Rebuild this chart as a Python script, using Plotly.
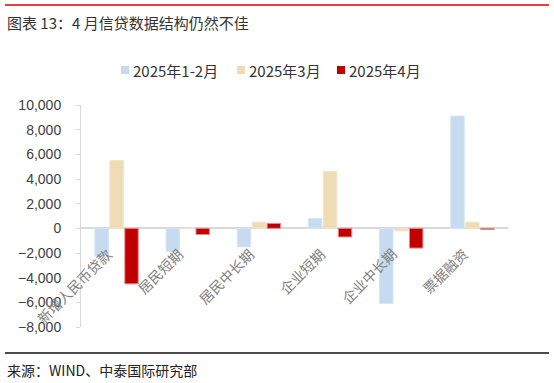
import plotly.graph_objects as go

categories = ["新增人民币贷款", "居民短期", "居民中长期", "企业短期", "企业中长期", "票据融资"]
series_names = ["2025年1-2月", "2025年3月", "2025年4月"]
v_jan_feb = [-2300, -1900, -1500, 800, -6100, 9100]
v_mar = [5500, 0, 500, 4600, -200, 500]
v_apr = [-4500, -500, 400, -700, -1600, -100]
y_ticks = [10000, 8000, 6000, 4000, 2000, 0, -2000, -4000, -6000, -8000]
title_text = "图表 13：4 月信贷数据结构仍然不佳"
source_text = "来源：WIND、中泰国际研究部"

colors = ["#C6DBEF", "#F0DCB4", "#C00000"]
line_colors = ["#D6E5F4", "#F3E4C6", "#E58A8A"]
values = [v_jan_feb, v_mar, v_apr]

CJK = "Noto Sans CJK SC"

W, H = 554, 383
ml, mr, mt, mb = 81, 46, 105, 56
pw, ph = W - ml - mr, H - mt - mb


def px_to_paper(xp, yp):
    return (xp - ml) / pw, 1 - (yp - mt) / ph


fig = go.Figure()
for name, vals, c, lc in zip(series_names, values, colors, line_colors):
    fig.add_trace(go.Bar(
        x=categories, y=vals, name=name, showlegend=False,
        marker=dict(color=c, line=dict(color=lc, width=1)),
    ))

for cat in categories:
    fig.add_annotation(
        x=cat, y=0, xref="x", yref="y", text=cat, showarrow=False,
        textangle=-45, xanchor="right", yanchor="top",
        xshift=2, yshift=-13,
        font=dict(family=CJK, size=14, color="#808080"),
    )

# custom legend (swatches + labels)
legend_x = [121, 237, 337]
for name, c, lx in zip(series_names, colors, legend_x):
    sx0, sy0 = px_to_paper(lx, 66)
    sx1, sy1 = px_to_paper(lx + 8, 74)
    fig.add_shape(type="rect", xref="paper", yref="paper", x0=sx0, x1=sx1, y0=sy0, y1=sy1,
                  line=dict(width=0), fillcolor=c)
    tx, ty = px_to_paper(lx + 10, 70)
    fig.add_annotation(x=tx, y=ty, xref="paper", yref="paper", text=name, showarrow=False,
                       xanchor="left", yanchor="middle",
                       font=dict(family=CJK, size=15, color="#333333"))

tx, ty = px_to_paper(5, 22)
fig.add_annotation(x=tx, y=ty, xref="paper", yref="paper", text=title_text, showarrow=False,
                   xanchor="left", yanchor="middle",
                   font=dict(family=CJK, size=15, color="#333333"))
sx, sy = px_to_paper(5, 370)
fig.add_annotation(x=sx, y=sy, xref="paper", yref="paper", text=source_text, showarrow=False,
                   xanchor="left", yanchor="middle",
                   font=dict(family=CJK, size=14, color="#222222"))

x0, y0 = px_to_paper(5, 5)
x1, _ = px_to_paper(549, 5)
fig.add_shape(type="line", xref="paper", yref="paper", x0=x0, x1=x1, y0=y0, y1=y0,
              line=dict(color="#E00000", width=1.5))
_, yb = px_to_paper(5, 353)
fig.add_shape(type="line", xref="paper", yref="paper", x0=x0, x1=x1, y0=yb, y1=yb,
              line=dict(color="#111111", width=1.5))

fig.update_layout(
    width=W, height=H,
    margin=dict(l=ml, r=mr, t=mt, b=mb, pad=0),
    paper_bgcolor="white", plot_bgcolor="white",
    barmode="group", bargap=0.37, bargroupgap=0.1,
    showlegend=False,
    xaxis=dict(range=[-0.5, 5.5], autorange=False, showticklabels=False, showline=False,
               showgrid=False, zeroline=False, ticks=""),
    yaxis=dict(range=[-8000, 10000], tickvals=y_ticks, tickformat=",",
               showgrid=False, zeroline=True, zerolinecolor="#D9D9D9", zerolinewidth=1.5,
               showline=True, linecolor="#D9D9D9", linewidth=1,
               ticks="outside", ticklen=4, tickcolor="#D9D9D9",
               ticklabelstandoff=12,
               tickfont=dict(family="Liberation Sans", size=14, color="#404040")),
)

fig.write_html("out.html", config={"displayModeBar": False},
               post_script="document.body.style.margin='0';document.body.style.padding='0';")
